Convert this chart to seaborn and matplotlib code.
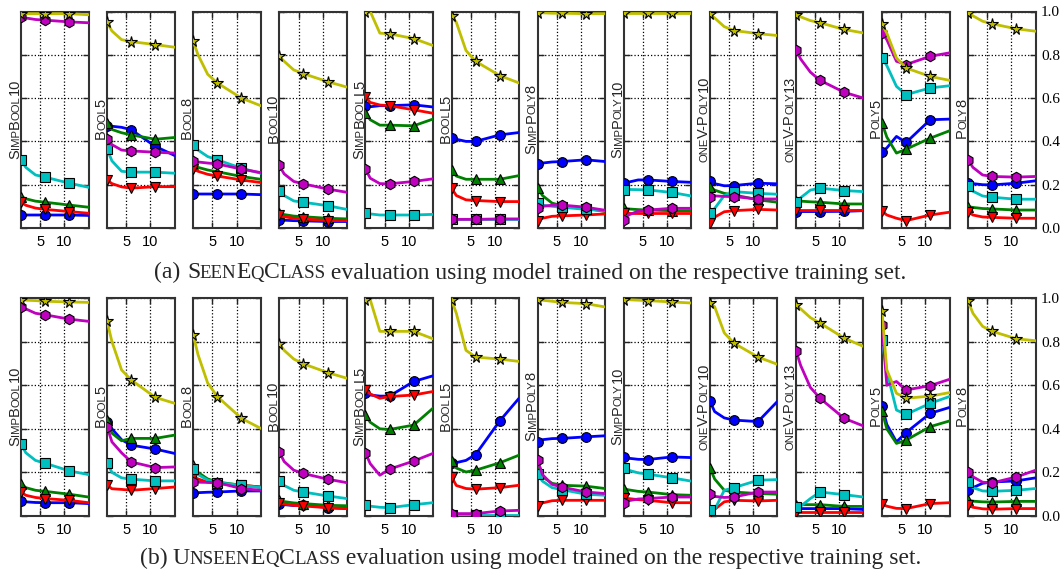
import matplotlib
matplotlib.use("Agg")
import matplotlib.pyplot as plt
from matplotlib.font_manager import FontProperties, findfont, get_font
import seaborn as sns

sns.set_style("white")
plt.rcParams["font.family"] = ["Liberation Sans", "DejaVu Sans"]

# ---------------- data ----------------
STEPS = [1, 2, 4, 6, 11, 15]
MARK_AT = [0, 3, 4]
PANELS = ["SimpBool10", "Bool5", "Bool8", "Bool10", "SimpBoolL5", "BoolL5",
          "SimpPoly8", "SimpPoly10", "oneV-Poly10", "oneV-Poly13", "Poly5", "Poly8"]
X_TICKS = [5, 10]
X_TICK_LABELS = ["5", "10"]
Y_TICKS = [0.0, 0.2, 0.4, 0.6, 0.8, 1.0]
Y_TICK_LABELS = ["0.0", "0.2", "0.4", "0.6", "0.8", "1.0"]
CAPTION_PREFIX = ["(a)", "(b)"]
CAPTION_NAME = ["SeenEqClass", "UnseenEqClass"]
CAPTION_TAIL = "evaluation using model trained on the respective training set."

# (a) SeenEqClass
A_BLUE = [
    [.060, .060, .060, .060, .060, .058], [.472, .470, .465, .454, .377, .335],
    [.157, .157, .157, .157, .157, .154], [.037, .036, .034, .033, .030, .030],
    [.562, .560, .565, .565, .569, .559], [.415, .410, .400, .400, .430, .441],
    [.295, .300, .305, .307, .315, .307], [.207, .212, .222, .222, .215, .211],
    [.215, .205, .195, .196, .207, .204], [.076, .076, .076, .076, .077, .080],
    [.350, .370, .423, .395, .500, .503], [.210, .205, .200, .199, .207, .218]]
A_GREEN = [
    [.145, .135, .124, .119, .106, .096], [.485, .455, .440, .430, .410, .418],
    [.290, .280, .268, .260, .238, .225], [.068, .062, .055, .052, .045, .042],
    [.530, .500, .475, .475, .472, .503], [.268, .240, .225, .225, .225, .242],
    [.187, .150, .115, .103, .091, .076], [.091, .088, .085, .083, .080, .080],
    [.191, .175, .160, .153, .130, .119], [.125, .124, .121, .119, .111, .111],
    [.485, .420, .346, .364, .415, .449], [.099, .095, .090, .088, .083, .083]]
A_RED = [
    [.119, .105, .092, .086, .076, .068], [.222, .205, .190, .184, .191, .191],
    [.272, .262, .248, .240, .222, .210], [.060, .052, .045, .042, .034, .034],
    [.605, .580, .568, .565, .546, .530], [.184, .150, .130, .127, .122, .122],
    [.032, .045, .054, .056, .060, .065], [.068, .068, .068, .068, .068, .068],
    [.022, .050, .075, .080, .086, .083], [.083, .083, .083, .083, .083, .083],
    [.079, .060, .045, .034, .060, .073], [.076, .060, .051, .049, .045, .045]]
A_CYAN = [
    [.315, .280, .245, .235, .207, .188], [.364, .310, .262, .258, .258, .253],
    [.384, .360, .330, .315, .276, .253], [.173, .150, .125, .119, .103, .086],
    [.071, .065, .060, .060, .060, .063], [.040, .040, .040, .040, .040, .040],
    [.114, .105, .100, .096, .086, .080], [.176, .178, .177, .176, .164, .148],
    [.068, .090, .150, .168, .160, .156], [.122, .140, .175, .184, .173, .168],
    [.785, .750, .654, .616, .647, .657], [.194, .170, .148, .142, .133, .133]]
A_MAGENTA = [
    [.975, .970, .963, .960, .952, .948], [.410, .385, .360, .356, .350, .346],
    [.310, .305, .300, .296, .272, .256], [.289, .250, .215, .204, .180, .165],
    [.273, .230, .205, .204, .215, .227], [.040, .040, .040, .040, .042, .042],
    [.091, .100, .105, .106, .096, .082], [.037, .060, .078, .083, .091, .091],
    [.145, .148, .146, .145, .134, .134], [.824, .780, .720, .682, .627, .600],
    [.901, .870, .770, .755, .793, .809], [.315, .280, .245, .238, .235, .238]]
A_YELLOW = [
    [.990, .990, .990, .990, .990, .985], [.950, .910, .870, .861, .847, .835],
    [.863, .800, .710, .670, .600, .565], [.793, .770, .730, .713, .676, .651],
    [1.00, 1.00, .900, .897, .875, .843], [.978, .950, .820, .770, .704, .670],
    [.994, .994, .992, .992, .990, .990], [.994, .994, .994, .994, .994, .994],
    [.990, .970, .930, .912, .898, .889], [.986, .975, .958, .948, .917, .901],
    [.940, .900, .785, .739, .700, .682], [.994, .980, .955, .943, .920, .909]]

# (b) UnseenEqClass
B_BLUE = [
    [.069, .065, .062, .061, .061, .057], [.432, .400, .350, .325, .307, .287],
    [.106, .107, .109, .110, .115, .115], [.057, .052, .048, .052, .038, .034],
    [.566, .555, .550, .550, .617, .643], [.245, .245, .255, .282, .436, .540],
    [.340, .350, .355, .356, .363, .368], [.271, .265, .260, .259, .271, .268],
    [.528, .479, .450, .440, .433, .525], [.034, .034, .034, .034, .034, .030],
    [.505, .420, .340, .383, .471, .498], [.118, .130, .150, .156, .161, .175]]
B_GREEN = [
    [.149, .130, .118, .113, .100, .087], [.440, .380, .345, .356, .356, .371],
    [.233, .200, .170, .156, .141, .133], [.072, .066, .060, .057, .049, .047],
    [.463, .430, .400, .397, .417, .494], [.252, .220, .202, .210, .244, .279],
    [.218, .180, .150, .141, .137, .126], [.126, .120, .113, .110, .098, .095],
    [.222, .170, .118, .110, .103, .100], [.052, .052, .052, .052, .044, .044],
    [.482, .400, .333, .348, .410, .436], [.072, .068, .065, .064, .067, .067]]
B_RED = [
    [.110, .095, .085, .080, .072, .061], [.141, .125, .122, .118, .126, .133],
    [.180, .170, .155, .149, .141, .133], [.061, .055, .049, .046, .038, .034],
    [.578, .560, .540, .548, .555, .571], [.180, .140, .126, .123, .130, .141],
    [.044, .060, .070, .072, .072, .072], [.083, .080, .075, .072, .061, .061],
    [.014, .030, .065, .072, .069, .072], [.018, .018, .018, .018, .018, .018],
    [.054, .045, .035, .034, .057, .061], [.049, .040, .033, .031, .034, .034]]
B_CYAN = [
    [.330, .290, .255, .242, .207, .190], [.245, .200, .175, .169, .161, .161],
    [.215, .190, .165, .153, .141, .130], [.161, .140, .118, .110, .092, .080],
    [.052, .045, .040, .038, .052, .061], [.003, .003, .003, .003, .003, .003],
    [.192, .160, .130, .121, .100, .095], [.222, .210, .198, .192, .175, .160],
    [.029, .029, .118, .130, .164, .167], [.041, .045, .080, .110, .098, .087],
    [.808, .663, .486, .466, .517, .548], [.156, .130, .115, .113, .118, .126]]
B_MAGENTA = [
    [.959, .950, .930, .923, .903, .893], [.410, .340, .290, .248, .222, .225],
    [.156, .155, .154, .153, .126, .118], [.294, .250, .210, .195, .169, .153],
    [.290, .240, .187, .215, .252, .287], [.011, .011, .011, .011, .023, .026],
    [.256, .190, .145, .133, .110, .103], [.060, .070, .078, .080, .087, .087],
    [.103, .090, .085, .087, .110, .110], [.759, .690, .590, .540, .448, .413],
    [.877, .600, .617, .578, .598, .627], [.202, .180, .155, .152, .179, .210]]
B_YELLOW = [
    [.992, .990, .988, .985, .982, .980], [.893, .800, .670, .624, .544, .517],
    [.831, .740, .610, .548, .448, .402], [.790, .760, .720, .698, .658, .632],
    [.992, .992, .847, .847, .847, .813], [.992, .930, .760, .729, .720, .709],
    [.992, .990, .985, .980, .974, .959], [.992, .992, .990, .988, .982, .977],
    [.977, .960, .840, .793, .729, .696], [.969, .950, .910, .885, .816, .778],
    [.939, .670, .563, .540, .550, .566], [.985, .930, .870, .847, .813, .804]]

ROWS = [
    [A_BLUE, A_GREEN, A_RED, A_CYAN, A_MAGENTA, A_YELLOW],
    [B_BLUE, B_GREEN, B_RED, B_CYAN, B_MAGENTA, B_YELLOW],
]
COLORS = [(0, 0, 1), (0, 0.5, 0), (1, 0, 0), (0, 0.75, 0.75), (0.75, 0, 0.75), (0.75, 0.75, 0)]
MARKERS = ["o", "^", "v", "s", "h", "*"]
MSIZES = [7, 7, 7, 6.5, 7.5, 8.5]

# ---------------- layout ----------------
FW, FH = 1062, 571
fig = plt.figure(figsize=(FW / 100, FH / 100), dpi=100)
AX_LEFT0, AX_STEP, AX_W = 21.0, 86.1, 67.5
ROW_TOP = [11.5, 298.0]
ROW_BOT = [228.0, 516.0]
CAPTION_BASE = [278.5, 564.0]

for r in range(2):
    for p in range(12):
        left = AX_LEFT0 + p * AX_STEP
        ax = fig.add_axes([left / FW, (FH - ROW_BOT[r]) / FH, AX_W / FW,
                           (ROW_BOT[r] - ROW_TOP[r]) / FH])
        for s in range(6):
            sns.lineplot(x=STEPS, y=ROWS[r][s][p], ax=ax, color=COLORS[s],
                         marker=MARKERS[s], markevery=MARK_AT, markersize=MSIZES[s],
                         markeredgecolor="k", markeredgewidth=0.8, linewidth=2.0,
                         legend=False, zorder=3 + s)
        ax.set_xlim(1, 15)
        ax.set_ylim(0, 1.0)
        ax.set_xticks(X_TICKS)
        ax.set_xticklabels(X_TICK_LABELS)
        ax.set_yticks(Y_TICKS)
        ax.set_xlabel("")
        ax.set_ylabel("")
        ax.set_axisbelow(True)
        ax.grid(True, linestyle=":", color="k", linewidth=0.9)
        ax.tick_params(direction="in", length=4, width=1, top=True, right=True,
                       left=True, bottom=True, colors="#222222", labelcolor="k")
        ax.tick_params(axis="x", labelsize=10.5, pad=5)
        last = p == 11
        ax.tick_params(axis="y", labelleft=False, labelright=last, labelsize=11, pad=4)
        if last:
            ax.set_yticklabels(Y_TICK_LABELS, family=["Liberation Serif", "DejaVu Serif"])
        for sp in ax.spines.values():
            sp.set_color("#333333")
            sp.set_linewidth(1.5)

fig.canvas.draw()
renderer = fig.canvas.get_renderer()


def sc_segments(word):
    segs = []
    for ch in word:
        small = ch.islower()
        t = ch.upper() if small else ch
        if segs and segs[-1][1] == small:
            segs[-1][0] += t
        else:
            segs.append([t, small])
    return segs


def text_width(s, size, family):
    t = fig.text(0, 0, s, fontsize=size, family=family)
    w = t.get_window_extent(renderer).width
    t.remove()
    return w


def advance(s, size, family):
    return text_width("|" + s + "|", size, family) - text_width("||", size, family)


def left_bearing(s, size, family):
    ch = s[0]
    if ch == " ":
        return 0.0
    f = get_font(findfont(FontProperties(family=family, size=size)))
    f.set_size(size, 100)
    g = f.load_char(ord(ch))
    return g.horiBearingX / 64.0


def place(parts, cx, cy, rotation, family):
    """parts: list of (text, fontsize). cx, cy: pixel coords from top-left.
    For rotation 0, cy is the baseline; for rotation 90, cx is the baseline."""
    advs = [advance(t, fs, family) for t, fs in parts]
    total = sum(advs)
    pos = 0.0
    for (t, fs), a in zip(parts, advs):
        off = pos + left_bearing(t, fs, family)
        if rotation == 0:
            x = cx - total / 2 + off
            fig.text(x / FW, (FH - cy) / FH, t, fontsize=fs, family=family,
                     ha="left", va="baseline")
        else:
            y = (FH - cy) - total / 2 + off
            fig.text(cx / FW, y / FH, t, fontsize=fs, family=family, rotation=90,
                     rotation_mode="anchor", ha="left", va="baseline")
        pos += a


LABEL_SIZE, SC_RATIO = 10.5, 0.78
SANS = ["Liberation Sans", "DejaVu Sans"]
SERIF = ["Liberation Serif", "DejaVu Serif"]
for r in range(2):
    for p in range(12):
        left = AX_LEFT0 + p * AX_STEP
        parts = [(t, LABEL_SIZE * SC_RATIO if sm else LABEL_SIZE)
                 for t, sm in sc_segments(PANELS[p])]
        place(parts, left - 2.0, (ROW_TOP[r] + ROW_BOT[r]) / 2, 90, SANS)

CAP_SIZE, CAP_RATIO = 17.0, 0.8
for r in range(2):
    parts = [(CAPTION_PREFIX[r] + " ", CAP_SIZE)]
    parts += [(t, CAP_SIZE * CAP_RATIO if sm else CAP_SIZE)
              for t, sm in sc_segments(CAPTION_NAME[r])]
    parts += [(" " + CAPTION_TAIL, CAP_SIZE)]
    place(parts, 530, CAPTION_BASE[r], 0, SERIF)

fig.savefig("out.png", dpi=100)
